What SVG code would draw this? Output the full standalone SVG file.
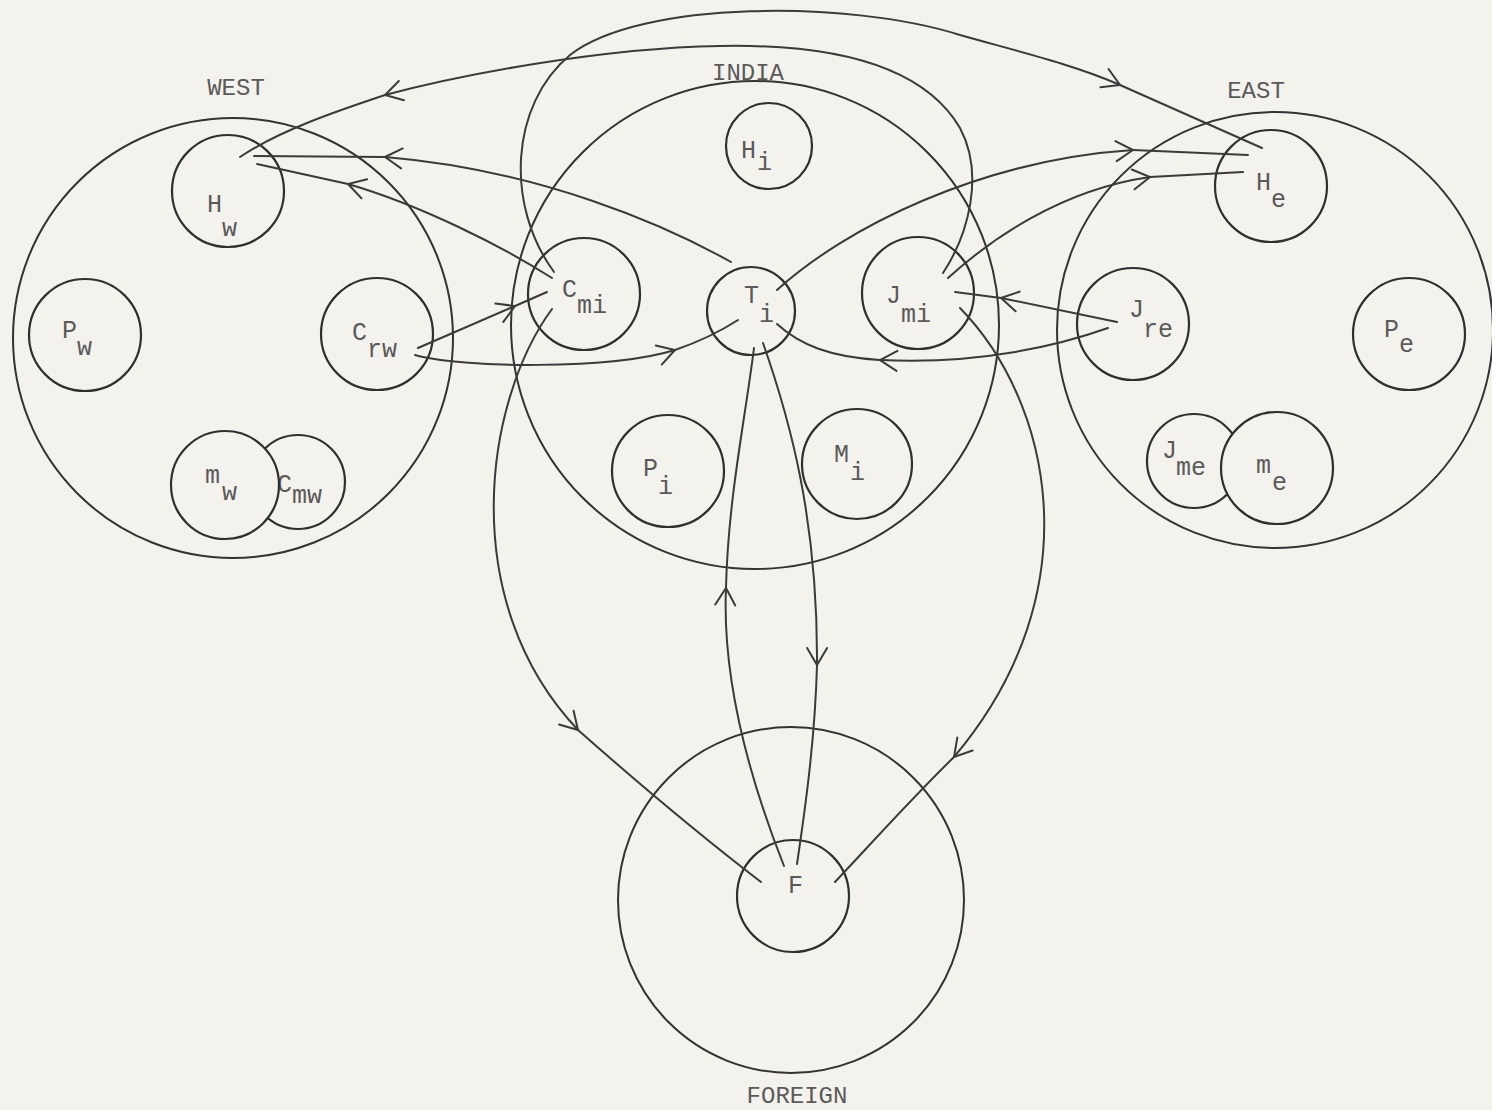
<svg xmlns="http://www.w3.org/2000/svg" width="1492" height="1110" viewBox="0 0 1492 1110">
<defs>
<style>
.bg{fill:#f4f2ec}
.big{fill:none;stroke:#333;stroke-width:2}
.node{fill:none;stroke:#2f2f2f;stroke-width:2.2}
.solid{fill:#f4f2ec;stroke:#2f2f2f;stroke-width:2.2}
.lbl{font-family:"Liberation Mono","DejaVu Sans Mono",monospace;font-size:25px;fill:#5a5a5a}
.region{font-family:"Liberation Mono","DejaVu Sans Mono",monospace;font-size:24px;fill:#5a5a5a;text-anchor:middle}
.con{fill:none;stroke:#3a3a3a;stroke-width:2;stroke-linecap:round}
</style>
<marker id="arr" viewBox="-20 -12 22 24" refX="0" refY="0" markerWidth="22" markerHeight="24" markerUnits="userSpaceOnUse" orient="auto">
<path d="M-17,-10 L0,0 L-17,10" fill="none" stroke="#3a3a3a" stroke-width="2" stroke-linecap="round"/>
</marker>
</defs>
<rect class="bg" x="0" y="0" width="1492" height="1110"/>

<g id="regions">
<g id="west"><circle class="big" cx="233" cy="338" r="220"/><text class="region" x="236" y="95">WEST</text></g>
<g id="india"><circle class="big" cx="755" cy="325" r="244"/><text class="region" x="748" y="80">INDIA</text></g>
<g id="east"><circle class="big" cx="1275" cy="330" r="218"/><text class="region" x="1256" y="98">EAST</text></g>
<g id="foreign"><circle class="big" cx="791" cy="900" r="173"/><text class="region" x="797" y="1103">FOREIGN</text></g>
</g>

<g id="nodes">
<g id="Hw"><circle class="node" cx="228" cy="191" r="56"/><text class="lbl"><tspan x="207" y="212">H</tspan><tspan x="222" y="236">w</tspan></text></g>
<g id="Pw"><circle class="node" cx="85" cy="335" r="56"/><text class="lbl"><tspan x="62" y="338">P</tspan><tspan x="77" y="355">w</tspan></text></g>
<g id="Crw"><circle class="node" cx="377" cy="334" r="56"/><text class="lbl"><tspan x="352" y="340">C</tspan><tspan x="367" y="357">rw</tspan></text></g>
<g id="Cmw"><circle class="node" cx="298" cy="482" r="47"/><text class="lbl"><tspan x="277" y="492">C</tspan><tspan x="292" y="503">mw</tspan></text></g>
<g id="mw"><circle class="solid" cx="225" cy="485" r="54"/><text class="lbl"><tspan x="205" y="483">m</tspan><tspan x="222" y="500">w</tspan></text></g>
<g id="Hi"><circle class="node" cx="769" cy="146" r="43"/><text class="lbl"><tspan x="741" y="158">H</tspan><tspan x="757" y="170">i</tspan></text></g>
<g id="Cmi"><circle class="node" cx="584" cy="294" r="56"/><text class="lbl"><tspan x="562" y="297">C</tspan><tspan x="577" y="313">mi</tspan></text></g>
<g id="Ti"><circle class="node" cx="751" cy="311" r="44"/><text class="lbl"><tspan x="744" y="303">T</tspan><tspan x="759" y="322">i</tspan></text></g>
<g id="Jmi"><circle class="node" cx="918" cy="293" r="56"/><text class="lbl"><tspan x="886" y="303">J</tspan><tspan x="901" y="322">mi</tspan></text></g>
<g id="Pi"><circle class="node" cx="668" cy="471" r="56"/><text class="lbl"><tspan x="643" y="476">P</tspan><tspan x="658" y="494">i</tspan></text></g>
<g id="Mi"><circle class="node" cx="857" cy="464" r="55"/><text class="lbl"><tspan x="834" y="462">M</tspan><tspan x="850" y="480">i</tspan></text></g>
<g id="He"><circle class="node" cx="1271" cy="186" r="56"/><text class="lbl"><tspan x="1256" y="190">H</tspan><tspan x="1271" y="207">e</tspan></text></g>
<g id="Jre"><circle class="node" cx="1133" cy="324" r="56"/><text class="lbl"><tspan x="1129" y="317">J</tspan><tspan x="1143" y="337">re</tspan></text></g>
<g id="Pe"><circle class="node" cx="1409" cy="334" r="56"/><text class="lbl"><tspan x="1384" y="337">P</tspan><tspan x="1399" y="352">e</tspan></text></g>
<g id="Jme"><circle class="node" cx="1194" cy="461" r="47"/><text class="lbl"><tspan x="1162" y="458">J</tspan><tspan x="1176" y="475">me</tspan></text></g>
<g id="me"><circle class="solid" cx="1277" cy="468" r="56"/><text class="lbl"><tspan x="1256" y="473">m</tspan><tspan x="1272" y="490">e</tspan></text></g>
<g id="F"><circle class="node" cx="793" cy="896" r="56"/><text class="lbl"><tspan x="788" y="893">F</tspan></text></g>
</g>

<g id="connectors">
<!-- C_mi -> H_e -->
<path class="con" marker-end="url(#arr)" d="M554,272 C505,205 510,105 570,55 C640,0 850,0 960,35 C1020,52 1075,65 1120,85"/>
<path class="con" d="M1120,85 L1262,148"/>
<!-- J_mi -> H_w -->
<path class="con" marker-end="url(#arr)" d="M943,273 C968,235 985,175 960,128 C920,60 820,44 720,46 C600,48 460,75 385,95"/>
<path class="con" d="M385,95 C340,110 280,130 240,157"/>
<!-- T_i -> H_w -->
<path class="con" marker-end="url(#arr)" d="M731,262 C665,225 540,170 385,157"/>
<path class="con" d="M385,157 L254,156"/>
<!-- C_mi -> H_w -->
<path class="con" marker-end="url(#arr)" d="M552,278 C500,245 420,205 348,184"/>
<path class="con" d="M348,184 L257,164"/>
<!-- C_rw -> C_mi -->
<path class="con" marker-end="url(#arr)" d="M418,348 L515,306"/>
<path class="con" d="M515,306 L547,292"/>
<!-- C_rw -> T_i -->
<path class="con" marker-end="url(#arr)" d="M415,355 C460,368 610,370 675,350"/>
<path class="con" d="M675,350 Q710,338 738,320"/>
<!-- C_mi -> F -->
<path class="con" marker-end="url(#arr)" d="M552,309 C485,400 455,600 578,730"/>
<path class="con" d="M578,730 Q680,820 761,882"/>
<!-- F -> T_i -->
<path class="con" marker-end="url(#arr)" d="M784,866 C750,780 722,680 726,588"/>
<path class="con" d="M726,588 C728,500 745,420 754,348"/>
<!-- T_i -> F -->
<path class="con" marker-end="url(#arr)" d="M763,343 C790,420 818,520 817,665"/>
<path class="con" d="M817,665 C815,740 805,810 797,864"/>
<!-- T_i -> H_e -->
<path class="con" marker-end="url(#arr)" d="M777,290 C845,228 980,160 1133,150"/>
<path class="con" d="M1133,150 L1248,155"/>
<!-- J_mi -> H_e -->
<path class="con" marker-end="url(#arr)" d="M948,278 C990,240 1060,190 1150,177"/>
<path class="con" d="M1150,177 L1243,172"/>
<!-- J_re -> J_mi -->
<path class="con" marker-end="url(#arr)" d="M1117,322 L1001,298"/>
<path class="con" d="M1001,298 L955,292"/>
<!-- J_re -> T_i -->
<path class="con" marker-end="url(#arr)" d="M1108,328 C1060,345 980,365 880,360"/>
<path class="con" d="M880,360 C830,357 800,345 777,324"/>
<!-- J_mi -> F -->
<path class="con" marker-end="url(#arr)" d="M960,308 C1050,400 1095,590 954,757"/>
<path class="con" d="M954,757 C910,800 870,845 835,882"/>
</g>
</svg>
